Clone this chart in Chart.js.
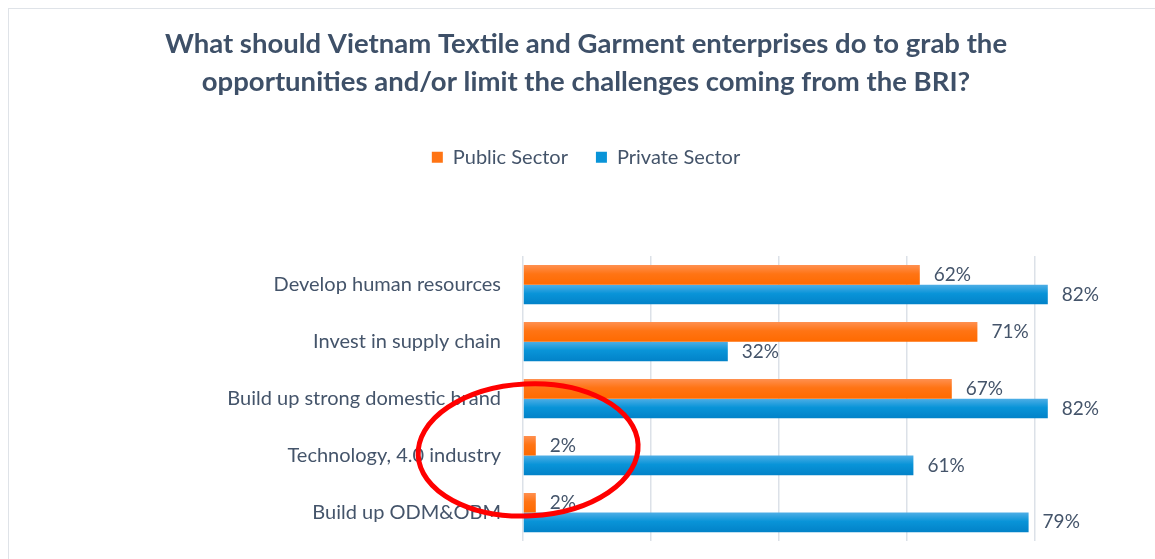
<!DOCTYPE html>
<html>
<head>
<meta charset="utf-8">
<script src="https://cdn.jsdelivr.net/npm/chart.js@4/dist/chart.umd.min.js"></script>
<style>
  html, body { margin: 0; padding: 0; background: #fff; overflow: hidden; }
  #wrap {
    position: absolute; left: 8px; top: 8px;
    width: 1160px; height: 600px;
    border: 1px solid #dfe3e8;
    background: #fff;
  }
</style>
</head>
<body>
<div id="wrap"><canvas id="myChart" width="1160" height="600"></canvas></div>
<script>
const categories = [
    'Develop human resources',
    'Invest in supply chain',
    'Build up strong domestic brand',
    'Technology, 4.0 industry',
    'Build up ODM&OBM'
];
const publicSector = [62, 71, 67, 2, 2];
const privateSector = [82, 32, 82, 61, 79];
const titleLines = [
    'What should Vietnam Textile and Garment enterprises do to grab the',
    'opportunities and/or limit the challenges coming from the BRI?'
];
// red ellipse drawn over the chart, given in axis units
const ellipseMark = { x: 0.8, y: 2.9, rx: 17.2, ry: 1.16, tilt: -0.05 };

const textColor = '#44546a';
const fontFamily = 'Lato, "Open Sans", sans-serif';

const gradients = [
    ['#ff9050', '#ff7414', '#ff6a00'],  // orange
    ['#4eaee6', '#0994d8', '#0282c8']   // blue
];

// paint every bar with a top-to-bottom gradient like the office chart
const barGradientPlugin = {
    id: 'barGradient',
    beforeDatasetDraw(chart, args) {
        const ctx = chart.ctx;
        const stops = gradients[args.index];
        args.meta.data.forEach(bar => {
            const top = bar.y - bar.height / 2;
            const g = ctx.createLinearGradient(0, top, 0, top + bar.height);
            g.addColorStop(0, stops[0]);
            g.addColorStop(0.45, stops[1]);
            g.addColorStop(1, stops[2]);
            bar.options.backgroundColor = g;
        });
    }
};

const valueLabelPlugin = {
    id: 'valueLabels',
    afterDatasetsDraw(chart) {
        const ctx = chart.ctx;
        ctx.save();
        ctx.font = '19px ' + fontFamily;
        ctx.fillStyle = textColor;
        ctx.textBaseline = 'middle';
        ctx.textAlign = 'left';
        chart.data.datasets.forEach((ds, i) => {
            const meta = chart.getDatasetMeta(i);
            meta.data.forEach((bar, j) => {
                ctx.fillText(ds.data[j] + '%', bar.x + 14, bar.y);
            });
        });
        ctx.restore();
    }
};

const ellipsePlugin = {
    id: 'redEllipse',
    afterDraw(chart) {
        const xs = chart.scales.x, ys = chart.scales.y;
        const cx = xs.getPixelForValue(ellipseMark.x);
        const cy = ys.getPixelForValue(ellipseMark.y);
        const rx = xs.getPixelForValue(ellipseMark.x + ellipseMark.rx) - cx;
        const ry = ys.getPixelForValue(ellipseMark.y + ellipseMark.ry) - cy;
        const ctx = chart.ctx;
        ctx.save();
        ctx.beginPath();
        ctx.ellipse(cx, cy, rx, Math.abs(ry), ellipseMark.tilt, 0, Math.PI * 2);
        ctx.strokeStyle = '#ff0000';
        ctx.lineWidth = 5;
        ctx.stroke();
        ctx.restore();
    }
};

const ctx = document.getElementById('myChart').getContext('2d');
const chart = new Chart(ctx, {
    type: 'bar',
    data: {
        labels: categories,
        datasets: [{
            label: 'Public Sector',
            data: publicSector,
            backgroundColor: () => '#ff7414',  // scriptable so each bar keeps its own options
            categoryPercentage: 0.69,
            barPercentage: 1.0
        }, {
            label: 'Private Sector',
            data: privateSector,
            backgroundColor: () => '#0994d8',
            categoryPercentage: 0.69,
            barPercentage: 1.0
        }]
    },
    options: {
        indexAxis: 'y',
        responsive: false,
        animation: false,
        layout: {
            padding: { top: 17, left: 0, right: 6, bottom: 68 }
        },
        scales: {
            x: {
                position: 'top',
                min: 0,
                max: 100,
                ticks: { display: false, stepSize: 20 },
                grid: { color: '#dce1e8', lineWidth: 1.5, drawTicks: false },
                border: { display: false },
                afterFit(scale) { scale.height = 79; }
            },
            y: {
                ticks: {
                    color: textColor,
                    font: { family: fontFamily, size: 20 },
                    padding: 22
                },
                grid: { display: false, drawTicks: false },
                border: { display: false },
                afterFit(scale) { scale.width = 514; }
            }
        },
        plugins: {
            title: {
                display: true,
                text: titleLines,
                color: '#3e5068',
                font: { family: fontFamily, size: 27.5, weight: 'bold', lineHeight: 1.35 },
                padding: { top: 0, bottom: 19 }
            },
            legend: {
                position: 'top',
                labels: {
                    color: textColor,
                    font: { family: fontFamily, size: 20 },
                    boxWidth: 11,
                    boxHeight: 11,
                    padding: 28
                }
            },
            tooltip: { enabled: false }
        }
    },
    plugins: [barGradientPlugin, valueLabelPlugin, ellipsePlugin]
});
</script>
</body>
</html>
